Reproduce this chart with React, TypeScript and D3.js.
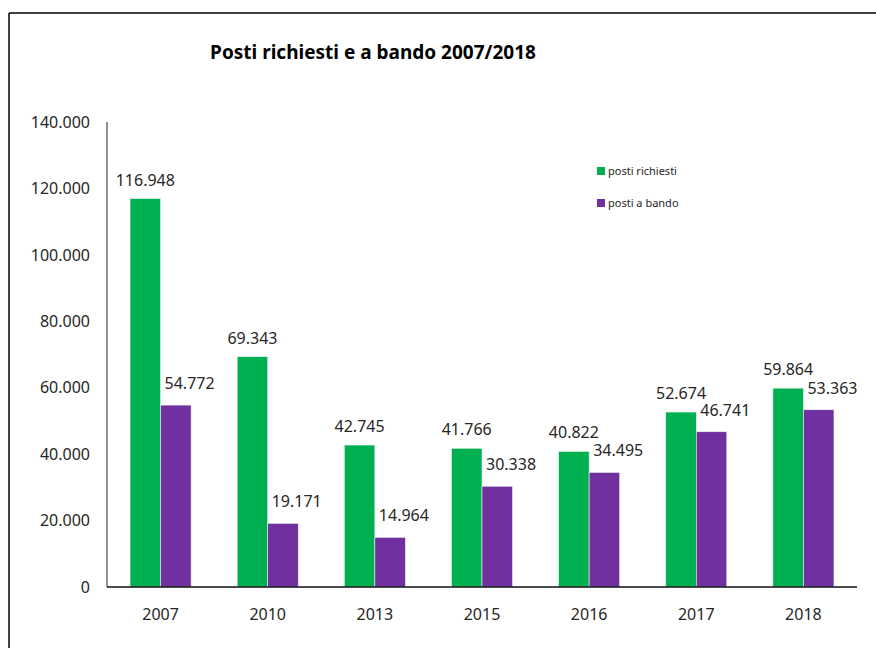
import React from "react";
import * as d3 from "d3";

// Anni e valori
const YEARS = ["2007", "2010", "2013", "2015", "2016", "2017", "2018"];
const POSTI_RICHIESTI = [116948, 69343, 42745, 41766, 40822, 52674, 59864];
const POSTI_A_BANDO = [54772, 19171, 14964, 30338, 34495, 46741, 53363];
const Y_TICKS = [0, 20000, 40000, 60000, 80000, 100000, 120000, 140000];

const SERIES = [
  { name: "posti richiesti", values: POSTI_RICHIESTI, color: "#00B050" },
  { name: "posti a bando", values: POSTI_A_BANDO, color: "#7030A0" },
];

const W = 876;
const H = 648;
const FONT = "'Noto Sans', 'Open Sans', sans-serif";
const TEXT = "#262626";

// numeri all'italiana: 116.948
const fmt = (v: number) =>
  v === 0 ? "0" : d3.format(",")(v).replace(/,/g, ".");

export default function App() {
  const plot = { left: 107, right: 857, top: 122, bottom: 587 };

  const x = d3
    .scaleBand<string>()
    .domain(YEARS)
    .range([plot.left, plot.right])
    .paddingInner(0)
    .paddingOuter(0);

  const inner = d3
    .scaleBand<string>()
    .domain(SERIES.map((s) => s.name))
    .range([0, x.bandwidth()])
    .paddingOuter(0.755)
    .paddingInner(0);

  const y = d3.scaleLinear().domain([0, 140000]).range([plot.bottom, plot.top]);

  return (
    <div style={{ position: "absolute", left: 0, top: 0 }}>
      <svg width={W} height={H} style={{ display: "block", background: "#fff" }}>
        {/* cornice */}
        <line x1={9} y1={13} x2={W} y2={13} stroke="#000" strokeWidth={1.5} />
        <line x1={9} y1={13} x2={9} y2={H} stroke="#000" strokeWidth={1.5} />

        <text
          x={373}
          y={59}
          textAnchor="middle"
          fontFamily={FONT}
          fontWeight={700}
          fontSize={19}
          fill="#000"
        >
          Posti richiesti e a bando  2007/2018
        </text>

        {/* asse y */}
        {Y_TICKS.map((t) => (
          <text
            key={t}
            x={90}
            y={y(t)}
            dy="0.36em"
            textAnchor="end"
            fontFamily={FONT}
            fontSize={16}
            fill={TEXT}
          >
            {fmt(t)}
          </text>
        ))}

        {/* barre */}
        {SERIES.map((s, si) =>
          s.values.map((v, i) => {
            const bx = (x(YEARS[i]) ?? 0) + (inner(s.name) ?? 0);
            const bw = inner.bandwidth();
            return (
              <g key={s.name + i}>
                <rect
                  x={bx}
                  y={y(v)}
                  width={bw}
                  height={y(0) - y(v)}
                  fill={s.color}
                  stroke="#e8f5ec"
                  strokeWidth={0.6}
                />
                <text
                  x={si === 0 ? bx + bw / 2 : bx + 4}
                  y={y(v) - (si === 0 ? 13 : 16)}
                  textAnchor={si === 0 ? "middle" : "start"}
                  fontFamily={FONT}
                  fontSize={16}
                  fill={TEXT}
                >
                  {fmt(v)}
                </text>
              </g>
            );
          })
        )}

        <line x1={plot.left} y1={plot.top} x2={plot.left} y2={plot.bottom} stroke="#222" strokeWidth={1} />
        <line x1={plot.left} y1={plot.bottom} x2={plot.right} y2={plot.bottom} stroke="#111" strokeWidth={1.3} />

        {/* asse x */}
        {YEARS.map((yr) => (
          <text
            key={yr}
            x={(x(yr) ?? 0) + x.bandwidth() / 2}
            y={620}
            textAnchor="middle"
            fontFamily={FONT}
            fontSize={16}
            fill={TEXT}
          >
            {yr}
          </text>
        ))}

        {/* legenda */}
        {SERIES.map((s, i) => (
          <g key={s.name} transform={`translate(597, ${171 + i * 32})`}>
            <rect x={0} y={-4} width={8} height={8} fill={s.color} />
            <text x={11} y={0} dy="0.35em" fontFamily={FONT} fontSize={11} fill={TEXT}>
              {s.name}
            </text>
          </g>
        ))}
      </svg>
    </div>
  );
}
